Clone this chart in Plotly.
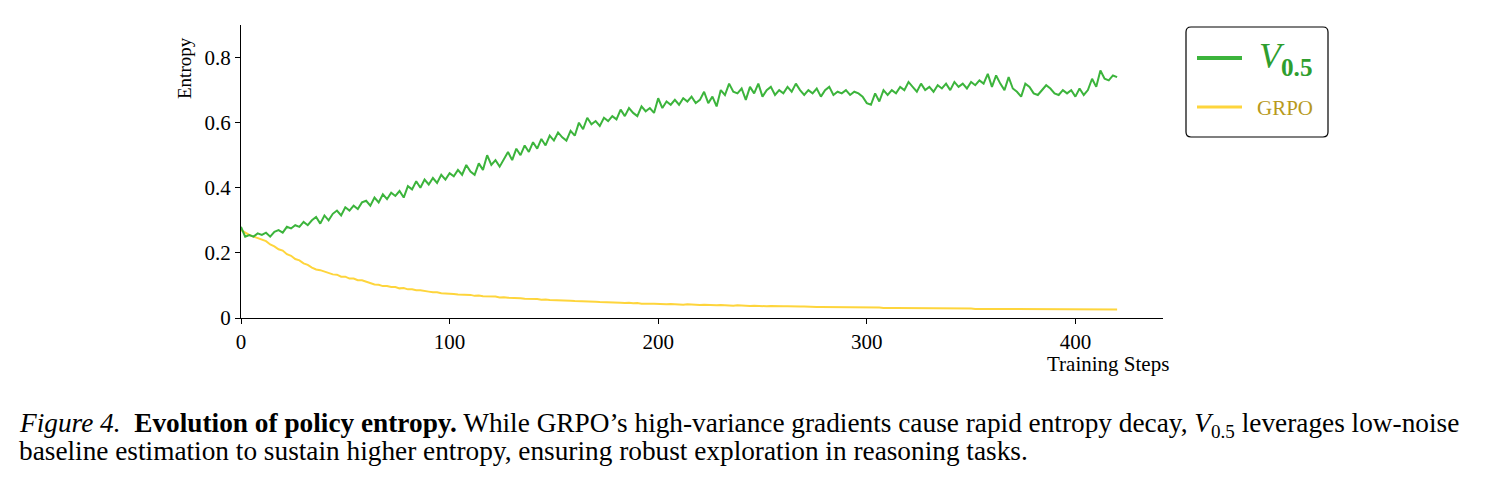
import plotly.graph_objects as go

# ---------------- data ----------------
steps_v05 = list(range(0, 421, 2))
entropy_v05 = [
    0.280, 0.250, 0.255, 0.250, 0.260, 0.255, 0.262, 0.250, 0.265, 0.270,
    0.262, 0.280, 0.275, 0.285, 0.280, 0.295, 0.285, 0.300, 0.310, 0.290,
    0.315, 0.300, 0.320, 0.330, 0.315, 0.340, 0.330, 0.345, 0.335, 0.355,
    0.360, 0.345, 0.370, 0.355, 0.380, 0.365, 0.385, 0.375, 0.390, 0.370,
    0.405, 0.395, 0.420, 0.400, 0.425, 0.410, 0.430, 0.415, 0.440, 0.425,
    0.445, 0.435, 0.455, 0.440, 0.470, 0.450, 0.440, 0.475, 0.455, 0.500,
    0.470, 0.485, 0.465, 0.490, 0.510, 0.485, 0.520, 0.500, 0.530, 0.510,
    0.540, 0.520, 0.550, 0.530, 0.560, 0.545, 0.570, 0.555, 0.545, 0.575,
    0.560, 0.600, 0.580, 0.615, 0.595, 0.605, 0.590, 0.615, 0.605, 0.620,
    0.610, 0.640, 0.620, 0.645, 0.630, 0.620, 0.650, 0.635, 0.645, 0.630,
    0.675, 0.645, 0.665, 0.655, 0.670, 0.655, 0.675, 0.665, 0.680, 0.660,
    0.670, 0.695, 0.660, 0.680, 0.650, 0.700, 0.685, 0.720, 0.695, 0.690,
    0.705, 0.670, 0.710, 0.690, 0.720, 0.680, 0.700, 0.710, 0.685, 0.700,
    0.690, 0.710, 0.695, 0.720, 0.700, 0.685, 0.700, 0.690, 0.705, 0.680,
    0.700, 0.710, 0.685, 0.695, 0.690, 0.700, 0.685, 0.695, 0.690, 0.680,
    0.660, 0.655, 0.690, 0.665, 0.700, 0.685, 0.700, 0.690, 0.710, 0.700,
    0.725, 0.710, 0.695, 0.720, 0.700, 0.710, 0.695, 0.715, 0.705, 0.720,
    0.700, 0.725, 0.710, 0.720, 0.705, 0.725, 0.715, 0.730, 0.720, 0.750,
    0.710, 0.745, 0.720, 0.700, 0.740, 0.705, 0.695, 0.680, 0.720, 0.710,
    0.690, 0.685, 0.700, 0.715, 0.705, 0.690, 0.685, 0.700, 0.690, 0.700,
    0.680, 0.705, 0.685, 0.700, 0.735, 0.710, 0.760, 0.735, 0.730, 0.745,
    0.740,
]

steps_grpo = list(range(0, 421, 2))
entropy_grpo = [
    0.270, 0.262, 0.255, 0.250, 0.246, 0.240, 0.236, 0.226, 0.220, 0.211,
    0.207, 0.196, 0.191, 0.181, 0.177, 0.168, 0.163, 0.155, 0.149, 0.147,
    0.142, 0.139, 0.134, 0.133, 0.127, 0.127, 0.121, 0.121, 0.116, 0.116,
    0.111, 0.108, 0.103, 0.102, 0.098, 0.098, 0.095, 0.095, 0.091, 0.092,
    0.088, 0.088, 0.085, 0.085, 0.082, 0.081, 0.079, 0.079, 0.076, 0.076,
    0.074, 0.074, 0.072, 0.072, 0.070, 0.071, 0.068, 0.069, 0.067, 0.067,
    0.065, 0.066, 0.063, 0.064, 0.062, 0.062, 0.060, 0.061, 0.059, 0.059,
    0.058, 0.058, 0.056, 0.057, 0.055, 0.055, 0.054, 0.054, 0.053, 0.053,
    0.052, 0.052, 0.051, 0.051, 0.050, 0.050, 0.049, 0.049, 0.048, 0.048,
    0.047, 0.047, 0.046, 0.047, 0.045, 0.046, 0.044, 0.045, 0.044, 0.044,
    0.043, 0.043, 0.042, 0.043, 0.042, 0.042, 0.041, 0.042, 0.041, 0.041,
    0.040, 0.041, 0.040, 0.040, 0.039, 0.040, 0.039, 0.039, 0.038, 0.039,
    0.038, 0.038, 0.037, 0.038, 0.037, 0.037, 0.036, 0.037, 0.036, 0.036,
    0.036, 0.036, 0.035, 0.036, 0.035, 0.035, 0.034, 0.035, 0.034, 0.034,
    0.034, 0.034, 0.033, 0.034, 0.033, 0.033, 0.033, 0.033, 0.032, 0.033,
    0.032, 0.032, 0.032, 0.032, 0.031, 0.032, 0.031, 0.031, 0.031, 0.031,
    0.030, 0.031, 0.030, 0.030, 0.030, 0.030, 0.030, 0.030, 0.029, 0.030,
    0.029, 0.029, 0.029, 0.029, 0.029, 0.029, 0.028, 0.029, 0.028, 0.028,
    0.028, 0.028, 0.028, 0.028, 0.028, 0.028, 0.027, 0.028, 0.027, 0.027,
    0.027, 0.027, 0.027, 0.027, 0.027, 0.027, 0.026, 0.027, 0.026, 0.026,
    0.026, 0.027, 0.026, 0.026, 0.026, 0.026, 0.026, 0.026, 0.026, 0.026,
    0.026,
]

y_ticks = [0, 0.2, 0.4, 0.6, 0.8]
y_tick_labels = ["0", "0.2", "0.4", "0.6", "0.8"]
x_ticks = [0, 100, 200, 300, 400]

assert len(steps_v05) == len(entropy_v05)
assert len(steps_grpo) == len(entropy_grpo)

# ---------------- styling ----------------
GREEN = "#3cb43c"
YELLOW = "#fed53c"
GREEN_TXT = "#2e9e2e"
GOLD_TXT = "#b89a1c"
FONT = "Liberation Serif"

W, H = 1491, 484
L, R, T, B = 241, 1163, 25, 318   # plot area in pixels


def px(x):
    return (x - L) / (R - L)


def py(y):
    return (B - y) / (B - T)


fig = go.Figure()
fig.add_trace(go.Scatter(x=steps_grpo, y=entropy_grpo, mode="lines",
                         line=dict(color=YELLOW, width=2), name="GRPO",
                         showlegend=False))
fig.add_trace(go.Scatter(x=steps_v05, y=entropy_v05, mode="lines",
                         line=dict(color=GREEN, width=2), name="V0.5",
                         showlegend=False))

fig.update_layout(
    width=W, height=H,
    margin=dict(l=L, r=W - R, t=T, b=H - B, pad=0),
    paper_bgcolor="white", plot_bgcolor="white",
    font=dict(family=FONT, color="black", size=21),
    xaxis=dict(range=[0, 442], tickvals=x_ticks, showgrid=False, zeroline=False,
               showline=True, linecolor="black", linewidth=1.2,
               ticks="outside", ticklen=5, tickwidth=1, tickcolor="black",
               tickfont=dict(family=FONT, size=21)),
    yaxis=dict(range=[0, 0.9], tickvals=y_ticks, ticktext=y_tick_labels,
               showgrid=False, zeroline=False,
               showline=True, linecolor="black", linewidth=1.2,
               ticks="outside", ticklen=5, tickwidth=1, tickcolor="black",
               tickfont=dict(family=FONT, size=21)),
)

ann = []
# axis titles
ann.append(dict(text="Entropy", xref="paper", yref="paper", x=px(185), y=py(68),
                textangle=-90, showarrow=False, font=dict(family=FONT, size=19),
                xanchor="center", yanchor="middle"))
ann.append(dict(text="Training Steps", xref="paper", yref="paper", x=px(1171), y=py(364),
                showarrow=False, font=dict(family=FONT, size=21),
                xanchor="right", yanchor="middle"))

# legend box (rounded) and entries
x0, x1, y0, y1, r = 1186, 1328, 27, 137, 5
path = (f"M {px(x0 + r)} {py(y0)} L {px(x1 - r)} {py(y0)} "
        f"Q {px(x1)} {py(y0)} {px(x1)} {py(y0 + r)} "
        f"L {px(x1)} {py(y1 - r)} Q {px(x1)} {py(y1)} {px(x1 - r)} {py(y1)} "
        f"L {px(x0 + r)} {py(y1)} Q {px(x0)} {py(y1)} {px(x0)} {py(y1 - r)} "
        f"L {px(x0)} {py(y0 + r)} Q {px(x0)} {py(y0)} {px(x0 + r)} {py(y0)} Z")
shapes = [
    dict(type="path", path=path, xref="paper", yref="paper",
         line=dict(color="black", width=1.2), fillcolor="white"),
    dict(type="line", xref="paper", yref="paper", x0=px(1197), x1=px(1242),
         y0=py(58), y1=py(58), line=dict(color=GREEN, width=4)),
    dict(type="line", xref="paper", yref="paper", x0=px(1197), x1=px(1242),
         y0=py(107), y1=py(107), line=dict(color=YELLOW, width=3)),
]
ann.append(dict(text="<i>V</i><sub><b>0.5</b></sub>", xref="paper", yref="paper",
                x=px(1257), y=py(58), showarrow=False, xanchor="left", yanchor="middle",
                font=dict(family=FONT, size=36, color=GREEN_TXT)))
ann.append(dict(text="GRPO", xref="paper", yref="paper",
                x=px(1255), y=py(108), showarrow=False, xanchor="left", yanchor="middle",
                font=dict(family=FONT, size=21, color=GOLD_TXT)))

# caption
ann.append(dict(text="<i>Figure 4.</i>  <b>Evolution of policy entropy.</b> While GRPO’s "
                     "high-variance gradients cause rapid entropy decay, <i>V</i><sub>0.5</sub> "
                     "leverages low-noise",
                xref="paper", yref="paper", x=px(17), y=py(425), showarrow=False,
                xanchor="left", yanchor="middle", font=dict(family=FONT, size=27.3)))
ann.append(dict(text="baseline estimation to sustain higher entropy, ensuring robust "
                     "exploration in reasoning tasks.",
                xref="paper", yref="paper", x=px(17), y=py(451), showarrow=False,
                xanchor="left", yanchor="middle", font=dict(family=FONT, size=27.3)))

fig.update_layout(annotations=ann, shapes=shapes)
fig.write_html("out.html")
